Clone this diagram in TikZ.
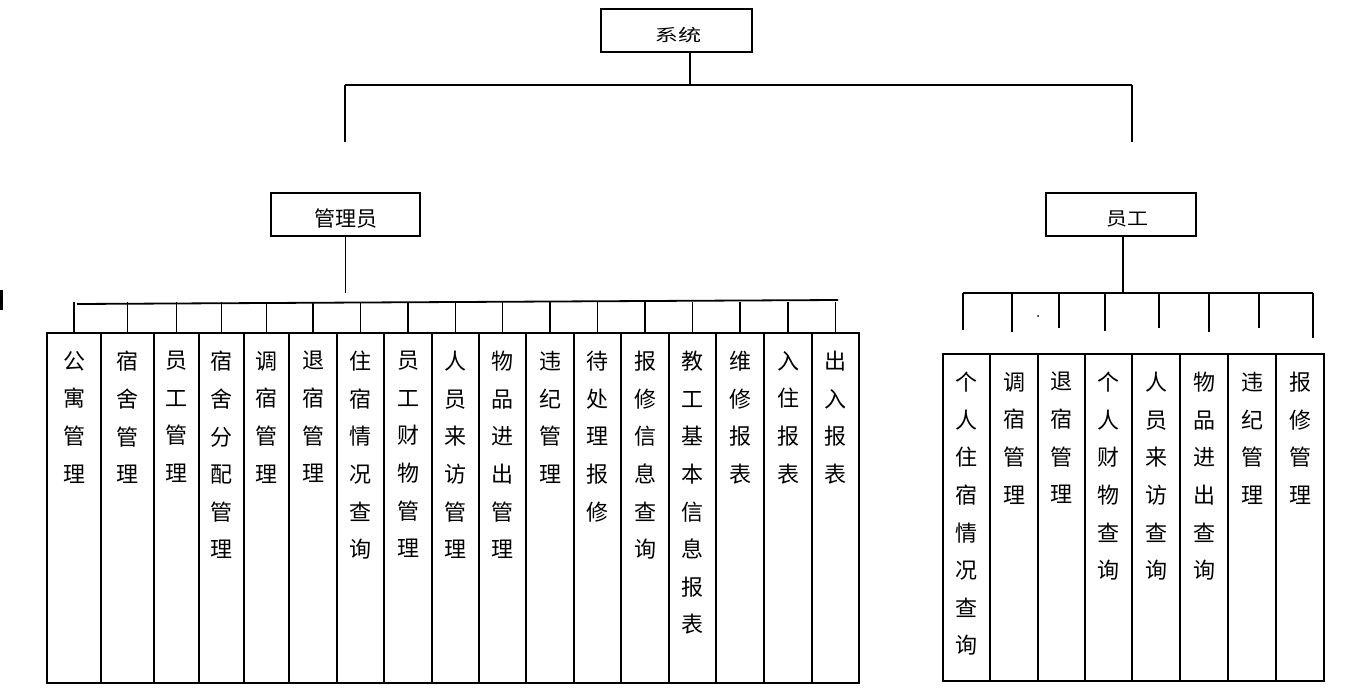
\documentclass[tikz,border=0pt]{standalone}
\usepackage{fontspec}
\usepackage{graphicx}
\newfontfamily\cjk{Noto Sans CJK SC}
\usetikzlibrary{positioning,calc}

\begin{document}
\begin{tikzpicture}[
    x=1pt, y=-1pt,
    box/.style={draw, line width=2pt, inner sep=0pt},
    boxtext/.style={inner sep=0pt, font=\cjk\fontsize{21}{24}\selectfont},
    col/.style={draw, line width=2pt, anchor=north, inner sep=0pt},
    coltext/.style={anchor=north, inner sep=0pt, align=center, font=\cjk\fontsize{22}{37.6}\selectfont},
    link/.style={line width=1.8pt}
]
\useasboundingbox (0,0) rectangle (1354,698);

% top level
\node[box, minimum width=151, minimum height=43] (sys) at (676.5,30.5) {};
\node[boxtext] (syst) at ($(sys)+(1.5,4.5)$) {\scalebox{1.1}[0.8]{系统}};
\node[box, minimum width=149, minimum height=43] (adm) at (345.5,214.5) {};
\node[boxtext] (admt) at ($(adm)+(0,4)$) {管理员};
\node[box, minimum width=150, minimum height=43] (stf) at (1121,214.5) {};
\node[boxtext] (stft) at ($(stf)+(6.5,4)$) {\scalebox{1}[0.88]{员工}};

\coordinate (sysdrop) at (690,52);
\coordinate (topl) at (345,85);
\coordinate (topr) at (1132,85);
\draw[link] (sysdrop) -- (sysdrop |- topl);
\draw[link] (topl) -- (topr);
\draw[link] (topl) -- ++(0,57);
\draw[link] (topr) -- ++(0,57);

% admin branch
\coordinate (abl) at (77,304);
\coordinate (abr) at (838,300);
\draw[link] (adm.south) -- ++(0,56);
\draw[link] (abl) -- (abr);
\foreach \l/\r/\t [count=\i] in {
    47/101/{公\\寓\\管\\理},
    101/154/{宿\\舍\\管\\理},
    154/199/{员\\工\\管\\理},
    199/244/{宿\\舍\\分\\配\\管\\理},
    244/289/{调\\宿\\管\\理},
    289/337/{退\\宿\\管\\理},
    337/384/{住\\宿\\情\\况\\查\\询},
    384/432/{员\\工\\财\\物\\管\\理},
    432/479/{人\\员\\来\\访\\管\\理},
    479/526/{物\\品\\进\\出\\管\\理},
    526/574/{违\\纪\\管\\理},
    574/621/{待\\处\\理\\报\\修},
    621/669/{报\\修\\信\\息\\查\\询},
    669/716/{教\\工\\基\\本\\信\\息\\报\\表},
    716/764/{维\\修\\报\\表},
    764/812/{入\\住\\报\\表},
    812/859/{出\\入\\报\\表}} {
  \node[col, minimum width=\r-\l, minimum height=350] (a\i) at ({(\l+\r)/2},332) {};
  \node[coltext] (a\i t) at ($(a\i.north)+(0,19)$) {\t};
  \draw[link] (a\i.north) -- ++(0,-30);
}

% staff branch
\coordinate (sbl) at (963,293);
\coordinate (sbr) at (1313,293);
\draw[link] (stf.south -| 1123,0) -- (1123,293);
\draw[link] (sbl) -- (sbr);
\foreach \x/\yb [count=\i] in {963/330, 1012/332, 1059/328, 1105/331, 1159/328, 1209/332, 1259/328, 1313/338} {
  \coordinate (st\i) at (\x,\yb);
  \draw[link] (st\i |- sbl) -- (st\i);
}
\foreach \l/\r/\t [count=\i] in {
    943/990/{个\\人\\住\\宿\\情\\况\\查\\询},
    990/1038/{调\\宿\\管\\理},
    1038/1085/{退\\宿\\管\\理},
    1085/1132/{个\\人\\财\\物\\查\\询},
    1132/1180/{人\\员\\来\\访\\查\\询},
    1180/1228/{物\\品\\进\\出\\查\\询},
    1228/1276/{违\\纪\\管\\理},
    1276/1324/{报\\修\\管\\理}} {
  \node[col, minimum width=\r-\l, minimum height=327] (s\i) at ({(\l+\r)/2},353) {};
  \node[coltext] (s\i t) at ($(s\i.north)+(0,19)$) {\t};
}

% stray marks
\draw[line width=3pt] (1.5,290) -- (1.5,310);
\fill (1038,316) circle (1);
\end{tikzpicture}
\end{document}
